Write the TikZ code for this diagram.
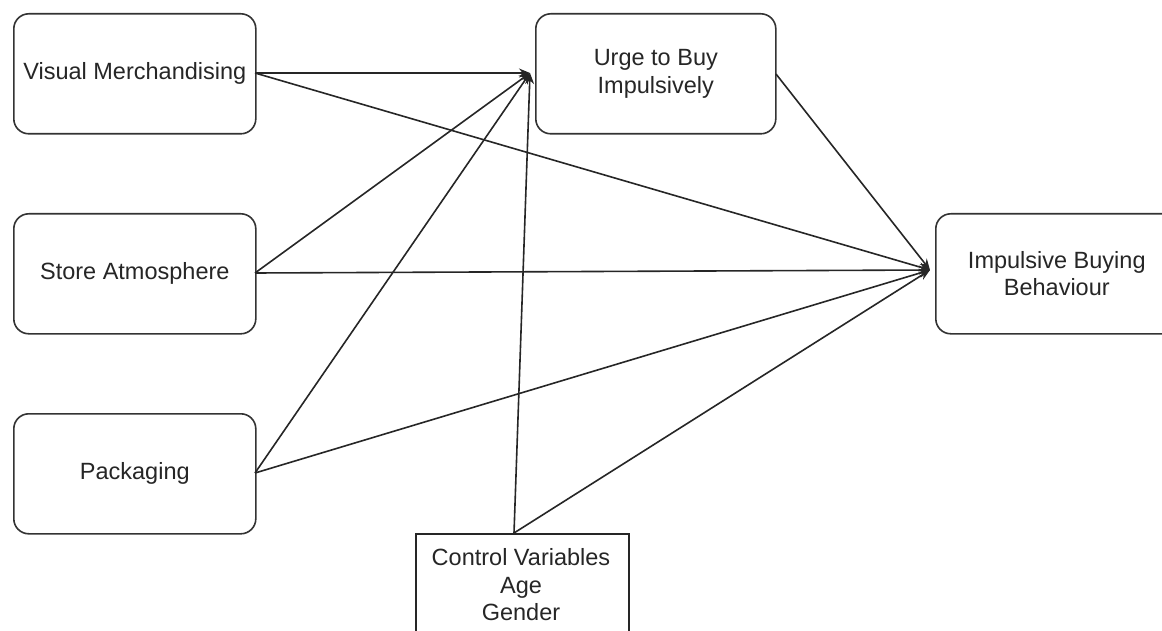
\documentclass[tikz,border=0pt]{standalone}
\usepackage{fontspec}
\setmainfont{Liberation Sans}
\usetikzlibrary{arrows.meta}
\begin{document}
\begin{tikzpicture}[x=1pt,y=-1pt,
  txt/.style={font=\fontsize{23.5}{27.5}\selectfont,text=black!85,align=center},
  box/.style={txt,draw=black!80,line width=1.6pt,rounded corners=15pt,fill=white,minimum width=242pt,minimum height=120pt,inner sep=0pt,anchor=north west},
  sqbox/.style={draw=black!85,line width=1.6pt,fill=white,inner sep=0pt,anchor=north west},
  conn/.style={line width=1.6pt,draw=black!85,-{Stealth[length=11pt,width=9pt]}}]
\clip (0,0) rectangle (1162,631);
\fill[white] (0,0) rectangle (1162,631);
\node[box] (vm) at (13,13) {Visual Merchandising};
\node[box] (sa) at (13,213) {Store Atmosphere};
\node[box] (pk) at (13,413) {Packaging};
\node[box,minimum width=240pt] (ub) at (535,13) {Urge to Buy\\Impulsively};
\node[box,minimum width=242pt] (ib) at (935,213) {Impulsive Buying\\Behaviour};
\node[sqbox,minimum width=213pt,minimum height=120pt] (cv) at (415,533) {};
\node[txt,anchor=north] (cvt) at (521,545) {Control Variables\\Age\\Gender};
\coordinate (ubin) at (530,73);
\coordinate (ibin) at (930,270);
\coordinate (vmo) at (255,73);
\coordinate (sao) at (255,273);
\coordinate (pko) at (255,473);
\coordinate (ubo) at (776,74);
\coordinate (cvo) at (514,533);
\draw[conn] (vmo) -- (ubin);
\draw[conn] (vmo) -- (ibin);
\draw[conn] (sao) -- (ubin);
\draw[conn] (sao) -- (ibin);
\draw[conn] (pko) -- (ubin);
\draw[conn] (pko) -- (ibin);
\draw[conn] (cvo) -- (ubin);
\draw[conn] (cvo) -- (ibin);
\draw[conn] (ubo) -- (ibin);
\end{tikzpicture}
\end{document}
